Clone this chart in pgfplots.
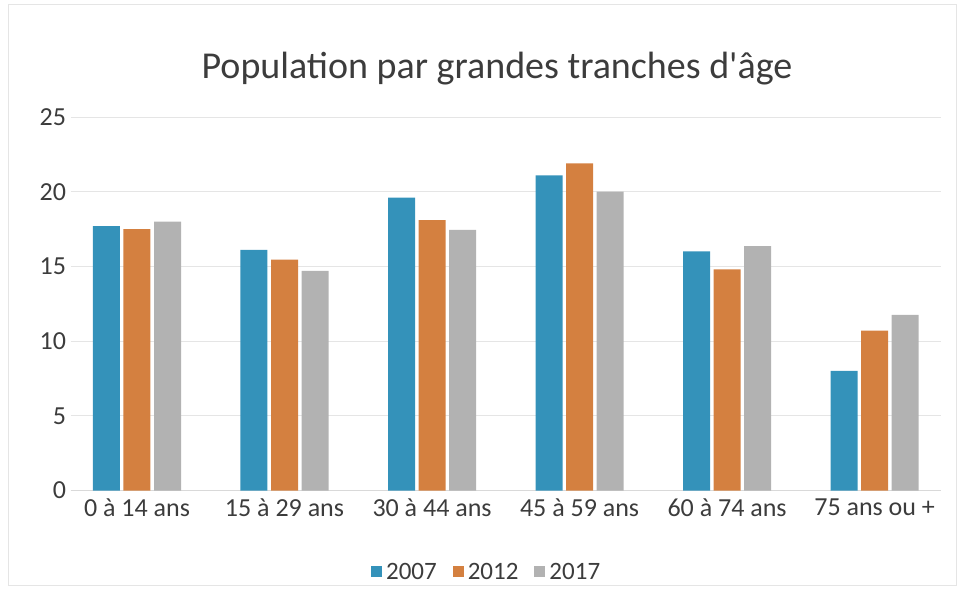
\documentclass[border=0pt]{standalone}
\usepackage{pgfplots}
\pgfplotsset{compat=1.18}
\usepackage{fontspec}
\setmainfont{Carlito}
\newfontfamily\titlefont{Carlito}
\definecolor{cblue}{RGB}{52,146,186}
\definecolor{corange}{RGB}{212,128,64}
\definecolor{cgray}{RGB}{178,178,178}
\definecolor{tgray}{RGB}{60,60,60}
\begin{document}
\begin{tikzpicture}[x=1pt,y=1pt]
\useasboundingbox (0,0) rectangle (963,589);
\draw[gray!20] (8,4) rectangle (956,585);
\node[font=\titlefont\fontsize{38}{44}\selectfont, text=tgray] at (497,520) {Population par grandes tranches d'âge};
\begin{axis}[
  at={(70.6pt,98.5pt)}, anchor=south west,
  width=870.4pt, height=373.5pt, scale only axis,
  xmin=-0.45, xmax=5.45, ymin=0, ymax=25,
  ytick={0,5,10,15,20,25},
  xtick={0,1,2,3,4,5},
  xticklabels={0 à 14 ans,15 à 29 ans,30 à 44 ans,45 à 59 ans,60 à 74 ans,75 ans ou +},
  ymajorgrids, grid style={gray!20, line width=0.8pt},
  axis x line=bottom, axis y line=left,
  axis line style={-},
  x axis line style={gray!30, line width=0.8pt},
  y axis line style={draw=none},
  major tick length=0pt,
  /pgf/number format/assume math mode=true,
  ticklabel style={font=\fontsize{26}{30}\selectfont, text=tgray},
  yticklabel style={xshift=-1pt},
  xticklabel style={yshift=-5pt},
  ybar, bar width=0.183,
  legend columns=3,
  legend style={at={(0.478,-0.218)}, anchor=center, draw=none, fill=none,
    font=\fontsize{25}{29}\selectfont, text=tgray,
    /tikz/every odd column/.append style={column sep=2pt},
    /tikz/every even column/.append style={column sep=14pt}},
  legend image code/.code={\fill[#1] (0pt,-5.5pt) rectangle (11pt,5.5pt);},
]
\addplot[fill=cblue, draw=none, bar shift=-0.207] coordinates {(0,17.7) (1,16.1) (2,19.6) (3,21.1) (4,16.0) (5,8.0)};
\addplot[fill=corange, draw=none, bar shift=0] coordinates {(0,17.5) (1,15.45) (2,18.1) (3,21.9) (4,14.8) (5,10.7)};
\addplot[fill=cgray, draw=none, bar shift=0.207] coordinates {(0,18.0) (1,14.7) (2,17.45) (3,20.0) (4,16.35) (5,11.75)};
\legend{2007,2012,2017}
\end{axis}
\end{tikzpicture}
\end{document}
